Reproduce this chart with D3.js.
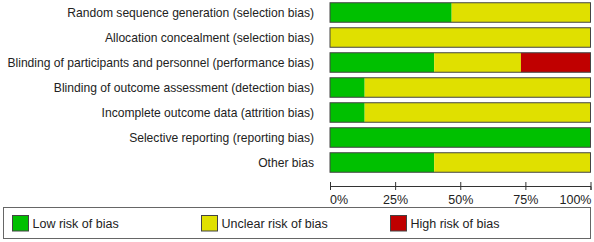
<!DOCTYPE html>
<html>
<head>
<meta charset="utf-8">
<script src="https://cdn.jsdelivr.net/npm/d3@7"></script>
<style>
  html, body { margin: 0; padding: 0; background: #fff; }
  svg { display: block; font-family: "Liberation Sans", Arial, sans-serif; }
</style>
</head>
<body>
<div id="chart"></div>
<script>
// Risk of bias domains (top to bottom)
const domains = [
  "Random sequence generation (selection bias)",
  "Allocation concealment (selection bias)",
  "Blinding of participants and personnel (performance bias)",
  "Blinding of outcome assessment (detection bias)",
  "Incomplete outcome data (attrition bias)",
  "Selective reporting (reporting bias)",
  "Other bias"
];
// percentages of studies per judgement
const lowRisk     = [46.7, 0,   40,   13.3, 13.3, 100, 40];
const unclearRisk = [53.3, 100, 33.3, 86.7, 86.7, 0,   60];
const highRisk    = [0,    0,   26.7, 0,    0,    0,   0];

const riskKeys = ["Low risk of bias", "Unclear risk of bias", "High risk of bias"];
const riskColors = ["#00c000", "#e0e000", "#c00000"];
const tickValues = [0, 25, 50, 75, 100];

const width = 594, height = 242;
const barLeft = 330, barRight = 590.5;

const svg = d3.select("#chart").append("svg")
  .attr("width", width)
  .attr("height", height);

const x = d3.scaleLinear().domain([0, 100]).range([barLeft, barRight]);
const y = d3.scaleBand().domain(domains).range([0, 175])
  .paddingInner(0.22).paddingOuter(0.11);

// stacked rows
const rows = domains.map((d, i) => ({ domain: d, values: [lowRisk[i], unclearRisk[i], highRisk[i]] }));
const stack = d3.stack().keys([0, 1, 2]).value((r, k) => r.values[k]);
const series = stack(rows);

series.forEach((s, k) => {
  svg.append("g")
    .attr("fill", riskColors[k])
    .selectAll("rect")
    .data(s.filter(p => p[1] - p[0] > 0))
    .join("rect")
    .attr("x", p => x(p[0]))
    .attr("y", p => y(p.data.domain))
    .attr("width", p => x(p[1]) - x(p[0]))
    .attr("height", y.bandwidth());
});

// bar outlines
svg.append("g")
  .selectAll("rect")
  .data(domains)
  .join("rect")
  .attr("x", x(0))
  .attr("y", d => y(d))
  .attr("width", x(100) - x(0))
  .attr("height", y.bandwidth())
  .attr("fill", "none")
  .attr("stroke", "#444")
  .attr("stroke-width", 1);

// domain labels
svg.append("g")
  .selectAll("text")
  .data(domains)
  .join("text")
  .attr("x", 314)
  .attr("y", d => y(d) + y.bandwidth() / 2)
  .attr("dy", "0.38em")
  .attr("text-anchor", "end")
  .attr("fill", "#222")
  .style("font-size", "12.1px")
  .text(d => d);

// x axis
const axisY = 186;
svg.append("g")
  .attr("transform", `translate(0,${axisY})`)
  .call(d3.axisBottom(x).tickValues(tickValues).tickFormat(d => d + "%").tickSizeOuter(0).tickSize(4))
  .call(g => g.select(".domain").attr("stroke", "#333"))
  .call(g => g.selectAll(".tick line").attr("y1", -4).attr("y2", 4).attr("stroke", "#333"))
  .call(g => g.selectAll(".tick text")
    .attr("y", 9)
    .attr("fill", "#222")
    .style("font-size", "12.5px")
    .style("font-family", "Liberation Sans, Arial, sans-serif")
    .attr("text-anchor", (d, i) => i === 0 ? "start" : (d === 100 ? "end" : "middle"))
    .attr("x", d => d === 0 ? -0.5 : (d === 100 ? 0.5 : 0)));

// legend
const legend = svg.append("g");
legend.append("rect")
  .attr("x", 3.5).attr("y", 207.5)
  .attr("width", 587).attr("height", 31)
  .attr("fill", "#fff")
  .attr("stroke", "#666");

const legendX = [12.5, 201.5, 390.5];
riskKeys.forEach((k, i) => {
  legend.append("rect")
    .attr("x", legendX[i]).attr("y", 215.5)
    .attr("width", 16).attr("height", 15.5)
    .attr("fill", riskColors[i])
    .attr("stroke", "#444");
  legend.append("text")
    .attr("x", legendX[i] + 20).attr("y", 223.5)
    .attr("dy", "0.38em")
    .attr("fill", "#222")
    .style("font-size", "12.5px")
    .text(k);
});
</script>
</body>
</html>
